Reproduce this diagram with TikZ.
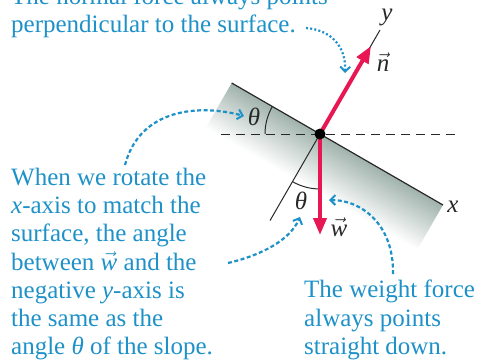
\documentclass[tikz,border=0pt]{standalone}
\usepackage{fontspec}
\setmainfont{Liberation Serif}
\usetikzlibrary{arrows.meta}
\definecolor{txtblue}{RGB}{30,145,200}
\definecolor{forcered}{RGB}{232,22,82}
\definecolor{bandgray}{RGB}{160,178,172}
\definecolor{axisgray}{RGB}{40,40,40}
\begin{document}
\begin{tikzpicture}[x=1pt,y=-1pt,
  lbl/.style={font=\fontsize{25}{28.3}\selectfont, text=txtblue, align=left, inner sep=0pt},
  callout/.style={txtblue, line width=2.2pt, dash pattern=on 4pt off 2.5pt, -{Straight Barb[length=5pt,width=10pt,line width=2pt]}},
  force/.style={forcered, line width=4pt, -{Triangle[length=17pt,width=13pt]}},
  axisline/.style={axisgray, line width=1pt},
  sym/.style={font=\fontsize{25}{28}\selectfont\itshape, inner sep=0pt, text=axisgray}
]
\useasboundingbox (0,0) rectangle (483,362);
\coordinate (O) at (320,134);
% shaded surface band
\begin{scope}[transform canvas={rotate around={-30:(O)}}]
  \shade[top color=bandgray, bottom color=white] (218,134) rectangle (462,186);
\end{scope}
% coordinates
\coordinate (sL) at (231.7,83);
\coordinate (sR) at (443,205);
\coordinate (hL) at (221,134);
\coordinate (hR) at (460,134);
\coordinate (yT) at (380,30);
\coordinate (yB) at (270,220.6);
\coordinate (nT) at (371,46);
\coordinate (wT) at (320,235);
% axes
\draw[axisline, dash pattern=on 9pt off 6pt] (hL) -- (hR);
\draw[axisline, line width=1.2pt] (sL) -- (sR);
\draw[axisline] (yB) -- (yT);
% angle arcs
\draw[axisline] (O) ++(180:55) arc[start angle=180, end angle=210, radius=55];
\draw[axisline] (O) ++(120:55) arc[start angle=120, end angle=90, radius=55];
% forces
\draw[force] (O) -- (nT);
\draw[force] (O) -- (wT);
\fill[black] (O) circle (5.5);
% symbols
\node[sym] (ylab) at (387,17) {y};
\node[sym] (xlab) at (453,207) {x};
\node[sym] (nlab) at (383,62) {\(\vec{\mbox{\itshape n}}\)};
\node[sym] (wlab) at (339,227) {\(\vec{\mbox{\itshape w}}\)};
\node[sym] (th1) at (254,117) {θ};
\node[sym] (th2) at (301,201) {θ};
% texts
\node[lbl, anchor=north west] (ttop) at (11,-13.4) {The normal force always points\\perpendicular to the surface.};
\node[lbl, anchor=north west] (tleft) at (11,167.6) {When we rotate the\\\textit{x}-axis to match the\\surface, the angle\\between \(\vec{\mbox{\itshape w}}\) and the\\negative \textit{y}-axis is\\the same as the\\angle \textit{θ} of the slope.};
\node[lbl, anchor=north west] (tright) at (304,279.9) {The weight force\\always points\\straight down.};
% callouts
\coordinate (c1s) at (306,28);
\coordinate (c1e) at (345,73);
\coordinate (c2s) at (125,165);
\coordinate (c2e) at (244,116);
\coordinate (c3s) at (228,263);
\coordinate (c3e) at (300,217);
\coordinate (c4s) at (393,274);
\coordinate (c4e) at (329,200);
\draw[callout, dash pattern=on 2pt off 2.2pt] (c1s) .. controls (330,30) and (346,45) .. (c1e);
\draw[callout] (c2s) .. controls (140,108) and (200,104) .. (c2e);
\draw[callout] (c3s) .. controls (262,255) and (290,240) .. (c3e);
\draw[callout] (c4s) .. controls (394,225) and (362,200) .. (c4e);
\end{tikzpicture}
\end{document}
